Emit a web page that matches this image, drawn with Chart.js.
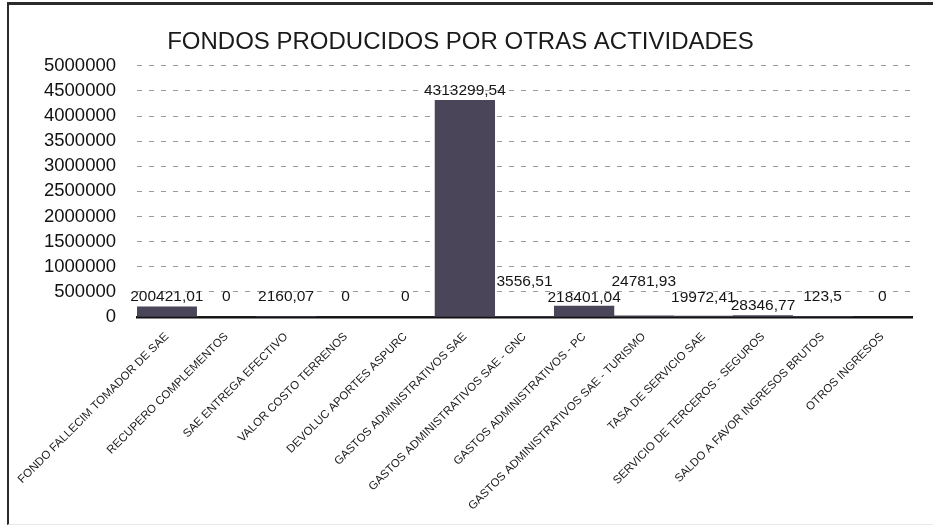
<!DOCTYPE html>
<html>
<head>
<meta charset="utf-8">
<script src="https://cdn.jsdelivr.net/npm/chart.js@4/dist/chart.umd.min.js"></script>
<style>
  body { margin: 0; background: #fff; overflow: hidden; }
  #frame {
    position: absolute; left: 7px; top: 2px; width: 924px; height: 519px;
    border-left: 2px solid #2b2b2b; border-top: 3px solid #2b2b2b;
    border-bottom: 1px solid #ece8e8;
  }
  canvas { display: block; }
</style>
</head>
<body>
<div id="frame"><canvas id="chart" width="916" height="518"></canvas></div>
<script>
  const categories = [
    'FONDO FALLECIM TOMADOR DE SAE',
    'RECUPERO COMPLEMENTOS',
    'SAE ENTREGA EFECTIVO',
    'VALOR COSTO TERRENOS',
    'DEVOLUC APORTES ASPURC',
    'GASTOS ADMINISTRATIVOS SAE',
    'GASTOS ADMINISTRATIVOS SAE - GNC',
    'GASTOS ADMINISTRATIVOS - PC',
    'GASTOS ADMINISTRATIVOS SAE - TURISMO',
    'TASA DE SERVICIO SAE',
    'SERVICIO DE TERCEROS - SEGUROS',
    'SALDO A FAVOR INGRESOS BRUTOS',
    'OTROS INGRESOS'
  ];
  const values = [200421.01, 0, 2160.07, 0, 0, 4313299.54, 3556.51, 218401.04, 24781.93, 19972.41, 28346.77, 123.5, 0];
  const yTicks = [0, 500000, 1000000, 1500000, 2000000, 2500000, 3000000, 3500000, 4000000, 4500000, 5000000];

  // how far (px) each value label sits above its bar top, staggered like the original
  const labelLift = [10, 20, 20, 20, 20, 10, 35, 8, 34, 18, 10, 20, 20];

  const FONT = '"Liberation Sans", Arial, sans-serif';

  const valueLabels = {
    id: 'valueLabels',
    afterDatasetsDraw(chart) {
      const ctx = chart.ctx;
      const meta = chart.getDatasetMeta(0);
      ctx.save();
      ctx.font = '15.5px ' + FONT;
      ctx.fillStyle = '#151515';
      ctx.textAlign = 'center';
      ctx.textBaseline = 'middle';
      meta.data.forEach((bar, i) => {
        const txt = String(values[i]).replace('.', ',');
        ctx.fillText(txt, bar.x, bar.y - labelLift[i]);
      });
      ctx.restore();
    }
  };

  new Chart(document.getElementById('chart'), {
    type: 'bar',
    data: {
      labels: categories,
      datasets: [{
        data: values,
        backgroundColor: '#4a4559',
        borderWidth: 0,
        barPercentage: 1,
        categoryPercentage: 1
      }]
    },
    options: {
      responsive: false,
      animation: false,
      layout: { padding: { top: 0, right: 13, bottom: 0, left: 0 } },
      plugins: {
        legend: { display: false },
        tooltip: { enabled: false },
        title: {
          display: true,
          text: 'FONDOS PRODUCIDOS POR OTRAS ACTIVIDADES',
          color: '#1a1a1a',
          font: { family: FONT, size: 24, weight: 'normal' },
          padding: { top: 23, bottom: 9 }
        }
      },
      scales: {
        x: {
          grid: { display: false, drawTicks: false },
          border: { display: true, color: '#111', width: 2.5 },
          ticks: {
            autoSkip: false,
            minRotation: 45,
            maxRotation: 45,
            padding: 13,
            color: '#1a1a1a',
            font: { family: FONT, size: 11.5 }
          },
          afterFit(scale) {
            scale.height = 206;
            scale.paddingLeft = 0;
            scale.paddingRight = 0;
          }
        },
        y: {
          min: 0,
          max: 5000000,
          afterBuildTicks(scale) { scale.ticks = yTicks.map(v => ({ value: v })); },
          grid: { color: '#9a9a9a', lineWidth: 1, drawTicks: false },
          border: { display: false, dash: [5, 7] },
          ticks: {
            autoSkip: false,
            padding: 21,
            color: '#111',
            font: { family: FONT, size: 18.5 },
            callback: v => String(v)
          },
          afterFit(scale) { scale.width = 128; }
        }
      }
    },
    plugins: [valueLabels]
  });
</script>
</body>
</html>
